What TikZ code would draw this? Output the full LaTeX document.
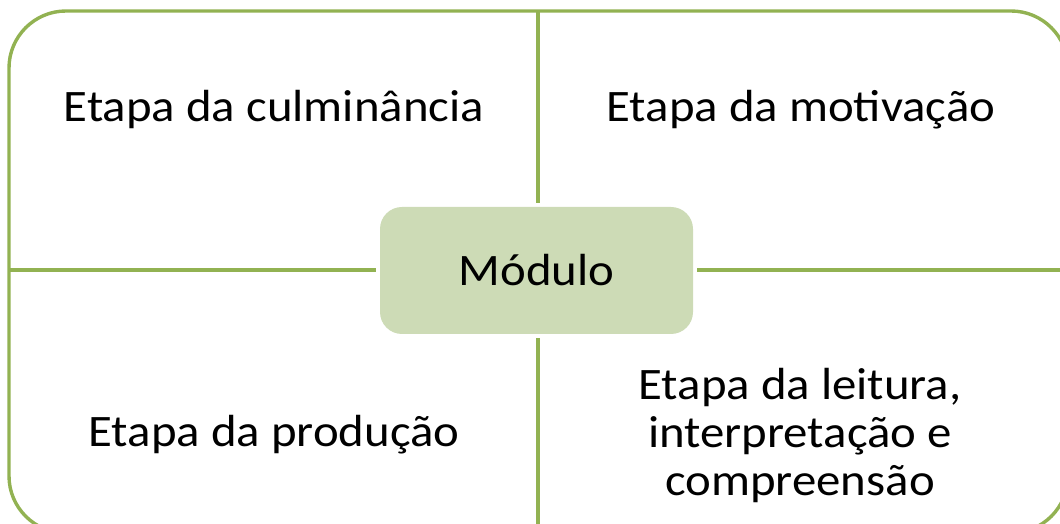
\documentclass[tikz,border=0pt]{standalone}
\usepackage{fontspec}
\setmainfont{Carlito}[FakeStretch=1.085]
\definecolor{frameGreen}{RGB}{146,178,82}
\definecolor{boxGreen}{RGB}{205,219,182}

\begin{document}
\begin{tikzpicture}[x=1pt,y=1pt,
  greenline/.style={draw=frameGreen, line width=3.4pt},
  modbox/.style={fill=boxGreen, rounded corners=22pt, minimum width=313pt, minimum height=127pt, inner sep=0pt},
  steptext/.style={font=\fontsize{45}{48}\selectfont, align=center, text=black, inner sep=0pt}]

\useasboundingbox (0,0) rectangle (1060,524);
\begin{scope}
\clip (0,0) rectangle (1060,524);

% outer frame
\draw[greenline, rounded corners=57pt] (9,-9) rectangle (1068,513);

% centre box
\node[modbox, steptext] (mod) at (536.5,253.5) {Módulo};

\coordinate (top) at (538,513);
\coordinate (bottom) at (538,-9);
\coordinate (left) at (9,254);
\coordinate (right) at (1068,254);

\draw[greenline, shorten >=4pt] (top) -- (top |- mod.north);
\draw[greenline, shorten >=4pt] (bottom) -- (bottom |- mod.south);
\draw[greenline, shorten >=4pt] (left) -- (left -| mod.west);
\draw[greenline, shorten >=4pt] (right) -- (right -| mod.east);

% steps
\node[steptext] (culm) at (274,414) {Etapa da culminância};
\node[steptext] (motiv) at (801,414) {Etapa da motivação};
\node[steptext] (prod) at (274,89) {Etapa da produção};
\node[steptext] (leit) at (800,88) {Etapa da leitura,\\ interpretação e\\ compreensão};
\end{scope}
\end{tikzpicture}
\end{document}
